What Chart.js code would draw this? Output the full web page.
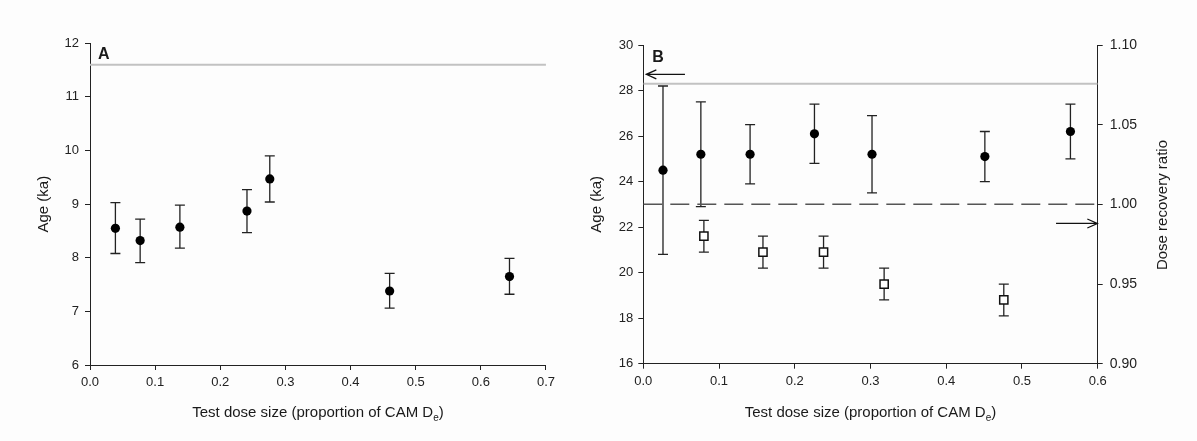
<!DOCTYPE html>
<html><head><meta charset="utf-8">
<script src="https://cdn.jsdelivr.net/npm/chart.js@4"></script>
<style>
html,body{margin:0;padding:0;background:#fdfdfd;width:1197px;height:441px;overflow:hidden;}
#ca{position:absolute;left:0;top:0;}
#cb{position:absolute;left:560px;top:0;}
</style></head><body>
<canvas id="ca" width="560" height="441"></canvas>
<canvas id="cb" width="637" height="441"></canvas>
<script>
// ---- Panel A data ----
const aDose    = [0.039, 0.077, 0.138, 0.241, 0.276, 0.460, 0.644];
const aAge     = [8.55, 8.32, 8.57, 8.87, 9.47, 7.38, 7.65];
const aAgeLow  = [8.08, 7.91, 8.18, 8.47, 9.04, 7.06, 7.32];
const aAgeHigh = [9.03, 8.72, 8.98, 9.27, 9.90, 7.71, 7.99];
const aRefAge  = 11.6;
const aXTicks  = [0, 0.1, 0.2, 0.3, 0.4, 0.5, 0.6, 0.7];
const aYTicks  = [6, 7, 8, 9, 10, 11, 12];

// ---- Panel B data ----
const bDose     = [0.026, 0.076, 0.141, 0.226, 0.302, 0.451, 0.564];
const bAge      = [24.5, 25.2, 25.2, 26.1, 25.2, 25.1, 26.2];
const bAgeLow   = [20.8, 22.9, 23.9, 24.8, 23.5, 24.0, 25.0];
const bAgeHigh  = [28.2, 27.5, 26.5, 27.4, 26.9, 26.2, 27.4];
const bRatioDose = [0.080, 0.158, 0.238, 0.318, 0.476];
const bRatio     = [0.98, 0.97, 0.97, 0.95, 0.94];
const bRatioLow  = [0.97, 0.96, 0.96, 0.94, 0.93];
const bRatioHigh = [0.99, 0.98, 0.98, 0.96, 0.95];
const bRefAge   = 28.3;
const bRefRatio = 1.00;
const bXTicks   = [0, 0.1, 0.2, 0.3, 0.4, 0.5, 0.6];
const bYTicks   = [16, 18, 20, 22, 24, 26, 28, 30];
const bY2Ticks  = [0.90, 0.95, 1.00, 1.05, 1.10];
// arrows: [axis, y value, from dose, to dose]
const bArrowLeft  = ['y', 28.71, 0.055, 0.004];
const bArrowRight = ['y2', 0.988, 0.545, 0.5995];

const FONT = "'Liberation Sans', Arial, sans-serif";
Chart.defaults.font.family = FONT;

const toPts = (xs, ys) => xs.map((x, i) => ({x: x, y: ys[i]}));

const errorBars = {
  id: 'errorBars',
  beforeDatasetsDraw(chart) {
    const ctx = chart.ctx;
    chart.data.datasets.forEach((ds, i) => {
      if (!ds.errLow) return;
      const meta = chart.getDatasetMeta(i);
      const xs = chart.scales[meta.xAxisID], ys = chart.scales[meta.yAxisID];
      ctx.save();
      ctx.strokeStyle = '#222';
      ctx.lineWidth = 1.3;
      ds.data.forEach((p, j) => {
        const x = xs.getPixelForValue(p.x);
        const y1 = ys.getPixelForValue(ds.errLow[j]);
        const y2 = ys.getPixelForValue(ds.errHigh[j]);
        ctx.beginPath();
        ctx.moveTo(x, y1); ctx.lineTo(x, y2);
        ctx.moveTo(x - 5, y1); ctx.lineTo(x + 5, y1);
        ctx.moveTo(x - 5, y2); ctx.lineTo(x + 5, y2);
        ctx.stroke();
      });
      ctx.restore();
    });
  }
};

function decoPlugin(cfg) {
  return {
    id: 'deco',
    afterDraw(chart) {
      const ctx = chart.ctx, ca = chart.chartArea;
      ctx.save();
      ctx.fillStyle = '#1a1a1a';
      // x title with subscript
      const main = 'Test dose size (proportion of CAM D';
      ctx.font = '15px ' + FONT;
      const w1 = ctx.measureText(main).width;
      ctx.font = '10px ' + FONT;
      const w2 = ctx.measureText('e').width;
      ctx.font = '15px ' + FONT;
      const w3 = ctx.measureText(')').width;
      let x = (ca.left + ca.right) / 2 - (w1 + w2 + w3) / 2;
      const yb = 417;
      ctx.textAlign = 'left'; ctx.textBaseline = 'alphabetic';
      ctx.fillText(main, x, yb); x += w1;
      ctx.font = '10px ' + FONT; ctx.fillText('e', x, yb + 4); x += w2;
      ctx.font = '15px ' + FONT; ctx.fillText(')', x, yb);
      // left y title
      const ym = (ca.top + ca.bottom) / 2;
      ctx.save();
      ctx.translate(ca.left - 46.5, ym); ctx.rotate(-Math.PI / 2);
      ctx.textAlign = 'center'; ctx.textBaseline = 'middle';
      ctx.fillText('Age (ka)', 0, 0);
      ctx.restore();
      if (cfg.rightTitle) {
        ctx.save();
        ctx.translate(ca.right + 65.6, ym + 0.7); ctx.rotate(-Math.PI / 2);
        ctx.textAlign = 'center'; ctx.textBaseline = 'middle';
        ctx.fillText(cfg.rightTitle, 0, 0);
        ctx.restore();
      }
      // panel letter
      ctx.font = 'bold 16px ' + FONT;
      ctx.textAlign = 'left'; ctx.textBaseline = 'alphabetic';
      ctx.fillText(cfg.letter, ca.left + cfg.letterDx, cfg.letterY);
      // arrows
      (cfg.arrows || []).forEach(a => {
        const ys = chart.scales[a[0]], xs = chart.scales.x;
        const y = ys.getPixelForValue(a[1]);
        const x0 = xs.getPixelForValue(a[2]), x1 = xs.getPixelForValue(a[3]);
        const d = Math.sign(x1 - x0);
        ctx.strokeStyle = '#111'; ctx.lineWidth = 1.3;
        ctx.beginPath();
        ctx.moveTo(x0, y); ctx.lineTo(x1, y);
        ctx.moveTo(x1 - d * 10, y - 4.5); ctx.lineTo(x1, y); ctx.lineTo(x1 - d * 10, y + 4.5);
        ctx.stroke();
      });
      ctx.restore();
    }
  };
}

function axis(opts) {
  return Object.assign({
    type: 'linear',
    grid: {display: true, drawOnChartArea: false, drawTicks: true, tickLength: 5, color: '#222', lineWidth: 1},
    border: {display: true, color: '#222', width: 1},
  }, opts);
}
function tickOpts(pad, size, dec) {
  return {padding: pad, color: '#222', font: {size: size, family: FONT}, autoSkip: false, maxRotation: 0,
          callback: v => Number(v).toFixed(dec)};
}
const setTicks = arr => s => { s.ticks = arr.map(v => ({value: v})); };

new Chart(document.getElementById('ca'), {
  type: 'scatter',
  data: {datasets: [
    {data: toPts(aDose, aAge), errLow: aAgeLow, errHigh: aAgeHigh,
     pointRadius: 4.6, pointBackgroundColor: '#000', pointBorderColor: '#000', pointBorderWidth: 0},
    {data: [{x: 0, y: aRefAge}, {x: 0.7, y: aRefAge}], showLine: true, borderColor: '#c2c2c2',
     borderWidth: 2, pointRadius: 0}
  ]},
  options: {
    responsive: false, animation: false, devicePixelRatio: 1,
    layout: {padding: {left: 0, right: 12, top: 43.3, bottom: 0}},
    plugins: {legend: {display: false}, tooltip: {enabled: false}},
    scales: {
      x: axis({min: 0, max: 0.7, afterBuildTicks: setTicks(aXTicks), afterFit: s => { s.height = 76; },
               ticks: tickOpts(5, 13, 1)}),
      y: axis({min: 6, max: 12, afterBuildTicks: setTicks(aYTicks), afterFit: s => { s.width = 90; },
               ticks: tickOpts(6, 13, 0)})
    }
  },
  plugins: [errorBars, decoPlugin({letter: 'A', letterDx: 8, letterY: 58.5})]
});

new Chart(document.getElementById('cb'), {
  type: 'scatter',
  data: {datasets: [
    {data: toPts(bRatioDose, bRatio), yAxisID: 'y2', errLow: bRatioLow, errHigh: bRatioHigh,
     pointStyle: 'rect', pointRadius: 5.8, pointBackgroundColor: '#fff', pointBorderColor: '#111', pointBorderWidth: 1.5},
    {data: toPts(bDose, bAge), yAxisID: 'y', errLow: bAgeLow, errHigh: bAgeHigh,
     pointRadius: 4.6, pointBackgroundColor: '#000', pointBorderColor: '#000', pointBorderWidth: 0},
    {data: [{x: 0, y: bRefAge}, {x: 0.6, y: bRefAge}], yAxisID: 'y', showLine: true, borderColor: '#c2c2c2',
     borderWidth: 2, pointRadius: 0},
    {data: [{x: 0, y: bRefRatio}, {x: 0.6, y: bRefRatio}], yAxisID: 'y2', showLine: true, borderColor: '#555',
     borderWidth: 1.5, borderDash: [19, 8], pointRadius: 0}
  ]},
  options: {
    responsive: false, animation: false, devicePixelRatio: 1,
    layout: {padding: {left: 0, right: 0, top: 45, bottom: 0}},
    plugins: {legend: {display: false}, tooltip: {enabled: false}},
    scales: {
      x: axis({min: 0, max: 0.6, afterBuildTicks: setTicks(bXTicks), afterFit: s => { s.height = 77.3; },
               ticks: tickOpts(5, 13, 1)}),
      y: axis({position: 'left', min: 16, max: 30, afterBuildTicks: setTicks(bYTicks), afterFit: s => { s.width = 83.3; },
               ticks: tickOpts(5, 13, 0)}),
      y2: axis({position: 'right', min: 0.9, max: 1.1, afterBuildTicks: setTicks(bY2Ticks), afterFit: s => { s.width = 99.3; },
               ticks: tickOpts(7, 14, 2)})
    }
  },
  plugins: [errorBars, decoPlugin({letter: 'B', letterDx: 9, letterY: 61.8, rightTitle: 'Dose recovery ratio',
                                   arrows: [bArrowLeft, bArrowRight]})]
});
</script>
</body></html>
